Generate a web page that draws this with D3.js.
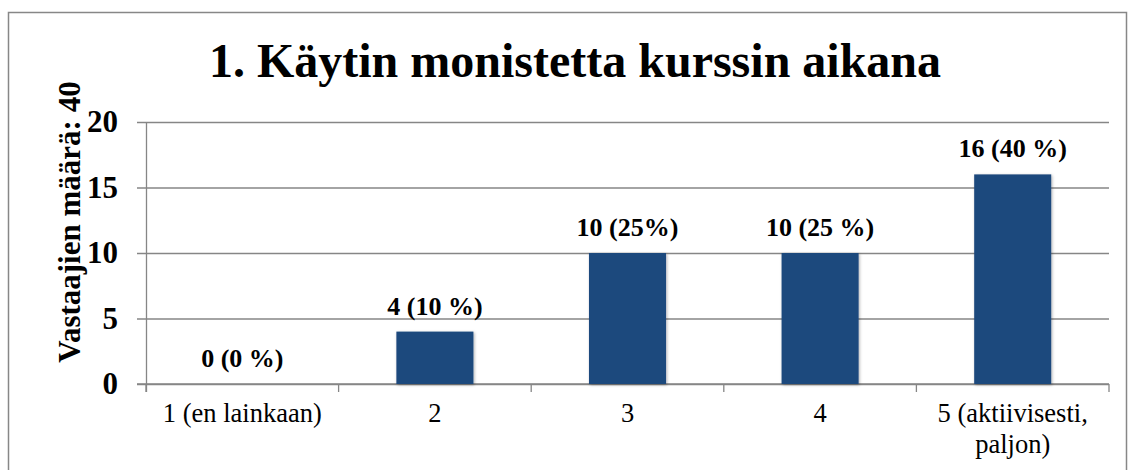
<!DOCTYPE html>
<html>
<head>
<meta charset="utf-8">
<script src="https://cdn.jsdelivr.net/npm/d3@7"></script>
<style>
  body { margin: 0; background: #fff; }
  text { font-family: "Liberation Serif", "Times New Roman", serif; }
</style>
</head>
<body>
<div id="viz"></div>
<script>
// chart data
var categories = ['1 (en lainkaan)', '2', '3', '4', '5 (aktiivisesti,|paljon)'];
var counts = [0, 4, 10, 10, 16];
var barLabels = ['0 (0 %)', '4 (10 %)', '10 (25%)', '10 (25 %)', '16 (40 %)'];
var yTicks = [0, 5, 10, 15, 20];
var title = '1. Käytin monistetta kurssin aikana';
var yTitle = 'Vastaajien määrä: 40';

var width = 1129, height = 470;
var gridColor = '#868686';

var svg = d3.select('#viz').append('svg')
	.attr('width', width)
	.attr('height', height);

// outer chart border
svg.append('rect')
	.attr('x', 8.5).attr('y', 12.5)
	.attr('width', 1118).attr('height', 470)
	.attr('fill', 'none')
	.attr('stroke', '#878787')
	.attr('stroke-width', 1.5);

// scales
var x = d3.scaleBand()
	.domain(categories)
	.range([146, 1109])
	.padding(0);

var y = d3.scaleLinear()
	.domain([0, 20])
	.range([384, 122]);

// gridlines with small ticks to the left
var grid = svg.append('g')
	.attr('transform', 'translate(146,0)')
	.call(d3.axisLeft(y).tickValues(yTicks).tickSize(9).tickFormat(''));
grid.select('.domain').remove();
grid.selectAll('.tick line')
	.attr('x1', -9)
	.attr('x2', 963)
	.attr('stroke', gridColor)
	.attr('stroke-width', 1.3);

// y tick labels
svg.selectAll('.ylab')
	.data(yTicks)
	.enter().append('text')
	.attr('class', 'ylab')
	.attr('x', 118)
	.attr('y', function(d) { return y(d); })
	.attr('dy', '0.33em')
	.attr('text-anchor', 'end')
	.attr('font-size', '31px')
	.attr('font-weight', 'bold')
	.text(function(d) { return d; });

// y axis line
svg.append('line')
	.attr('x1', 146.5).attr('x2', 146.5)
	.attr('y1', y(20)).attr('y2', 392)
	.attr('stroke', gridColor)
	.attr('stroke-width', 1.3);

// x axis with tick marks at category boundaries
var xAxis = svg.append('g')
	.attr('transform', 'translate(0,' + y(0) + ')');
xAxis.append('line')
	.attr('x1', 137).attr('x2', 1109)
	.attr('stroke', gridColor)
	.attr('stroke-width', 1.3);
var bounds = categories.map(function(c) { return x(c); }).concat([x.range()[1]]);
xAxis.selectAll('.xtick')
	.data(bounds)
	.enter().append('line')
	.attr('class', 'xtick')
	.attr('x1', function(d) { return d; })
	.attr('x2', function(d) { return d; })
	.attr('y1', 0).attr('y2', 8)
	.attr('stroke', gridColor)
	.attr('stroke-width', 1.3);

// x labels (| splits lines)
var xl = svg.selectAll('.xlab')
	.data(categories)
	.enter().append('text')
	.attr('class', 'xlab')
	.attr('x', function(d) { return x(d) + x.bandwidth() / 2; })
	.attr('y', 422)
	.attr('text-anchor', 'middle')
	.attr('font-size', '26.5px');
xl.each(function(d) {
	var parts = d.split('|');
	var t = d3.select(this);
	parts.forEach(function(p, i) {
		t.append('tspan')
			.attr('x', x(d) + x.bandwidth() / 2)
			.attr('dy', i === 0 ? 0 : 31)
			.text(p);
	});
});

// bar shadow filter
var defs = svg.append('defs');
var f = defs.append('filter').attr('id', 'shadow')
	.attr('x', '-20%').attr('y', '-20%').attr('width', '140%').attr('height', '140%');
f.append('feDropShadow')
	.attr('dx', 1).attr('dy', 1).attr('stdDeviation', 1.5)
	.attr('flood-color', '#000').attr('flood-opacity', 0.3);

// bars
var barW = x.bandwidth() * 0.4;
svg.selectAll('.bar')
	.data(counts)
	.enter().append('rect')
	.attr('class', 'bar')
	.attr('x', function(d, i) { return x(categories[i]) + (x.bandwidth() - barW) / 2; })
	.attr('y', function(d) { return y(d); })
	.attr('width', barW)
	.attr('height', function(d) { return y(0) - y(d); })
	.attr('fill', '#1F497D')
	.attr('filter', 'url(#shadow)');

// bar value labels
svg.selectAll('.blab')
	.data(counts)
	.enter().append('text')
	.attr('class', 'blab')
	.attr('x', function(d, i) { return x(categories[i]) + x.bandwidth() / 2; })
	.attr('y', function(d) { return y(d) - 17; })
	.attr('text-anchor', 'middle')
	.attr('font-size', '26px')
	.attr('font-weight', 'bold')
	.text(function(d, i) { return barLabels[i]; });

// title
svg.append('text')
	.attr('x', 575)
	.attr('y', 77)
	.attr('text-anchor', 'middle')
	.attr('font-size', '48px')
	.attr('font-weight', 'bold')
	.text(title);

// y axis title
svg.append('text')
	.attr('transform', 'translate(80,222) rotate(-90)')
	.attr('text-anchor', 'middle')
	.attr('font-size', '31px')
	.attr('font-weight', 'bold')
	.text(yTitle);
</script>
</body>
</html>
